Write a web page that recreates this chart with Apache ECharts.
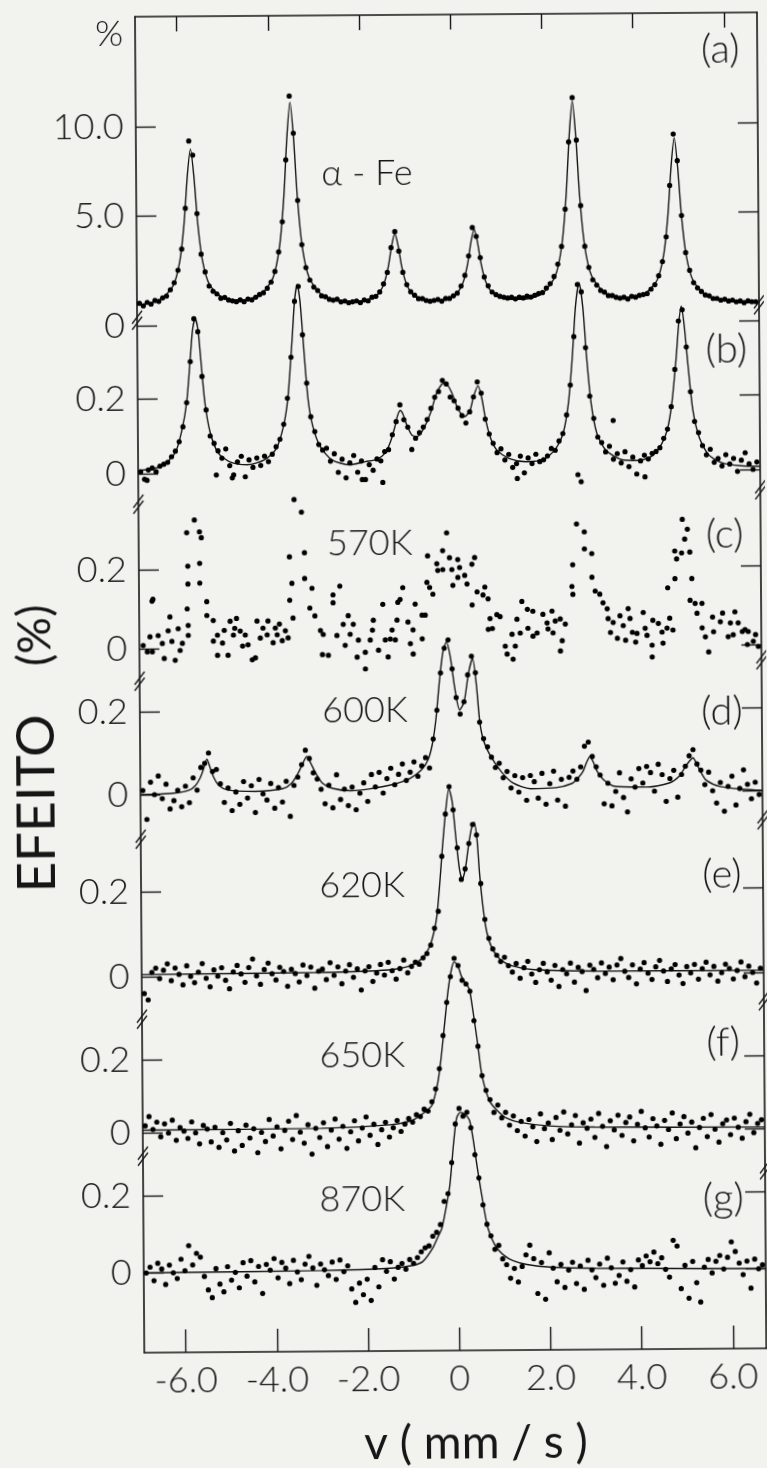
<!DOCTYPE html>
<html>
<head>
<meta charset="utf-8">
<script src="https://cdn.jsdelivr.net/npm/echarts@6/dist/echarts.min.js"></script>
<style>
html, body { margin: 0; padding: 0; background: #f2f3ef; }
#chart { width: 767px; height: 1468px; transform: rotate(-0.4deg); }
</style>
</head>
<body>
<div id="chart"></div>
<script>
// Velocity channels (mm/s), shared by all spectra
const velocity = [
-6.86,-6.775,-6.69,-6.605,-6.52,-6.435,-6.35,-6.265,-6.18,-6.095,
-6.01,-5.925,-5.84,-5.755,-5.67,-5.585,-5.5,-5.415,-5.33,-5.245,
-5.16,-5.075,-4.99,-4.905,-4.82,-4.735,-4.65,-4.565,-4.48,-4.395,
-4.31,-4.225,-4.14,-4.055,-3.97,-3.885,-3.8,-3.715,-3.63,-3.545,
-3.46,-3.375,-3.29,-3.205,-3.12,-3.035,-2.95,-2.865,-2.78,-2.695,
-2.61,-2.525,-2.44,-2.355,-2.27,-2.185,-2.1,-2.015,-1.93,-1.845,
-1.76,-1.675,-1.59,-1.505,-1.42,-1.335,-1.25,-1.165,-1.08,-0.995,
-0.91,-0.825,-0.74,-0.655,-0.57,-0.485,-0.4,-0.315,-0.23,-0.145,
-0.06,0.025,0.11,0.195,0.28,0.365,0.45,0.535,0.62,0.705,
0.79,0.875,0.96,1.045,1.13,1.215,1.3,1.385,1.47,1.555,
1.64,1.725,1.81,1.895,1.98,2.065,2.15,2.235,2.32,2.405,
2.49,2.575,2.66,2.745,2.83,2.915,3.0,3.085,3.17,3.255,
3.34,3.425,3.51,3.595,3.68,3.765,3.85,3.935,4.02,4.105,
4.19,4.275,4.36,4.445,4.53,4.615,4.7,4.785,4.87,4.955,
5.04,5.125,5.21,5.295,5.38,5.465,5.55,5.635,5.72,5.805,
5.89,5.975,6.06,6.145,6.23,6.315,6.4,6.485,6.57,6.655];

// (a) alpha-Fe reference, effect in %
const dotsA = [
0.05,-0.1,0.1,0.0,0.2,0.15,0.35,0.45,0.8,1.2,
1.9,3.1,5.4,9.2,8.4,5.1,2.8,1.8,1.0,0.7,
0.55,0.3,0.35,0.2,0.15,0.1,0.2,0.1,0.25,0.2,
0.35,0.5,0.6,0.85,1.2,1.8,2.9,4.6,8.1,11.7,
9.6,5.8,3.3,2.0,1.3,0.9,0.7,0.4,0.35,0.2,
0.15,0.2,0.05,0.1,0.0,0.05,0.1,0.0,0.15,0.1,
0.3,0.35,0.6,1.05,1.7,3.1,4.0,2.9,1.7,1.0,
0.6,0.4,0.2,0.2,0.1,0.05,0.1,0.15,0.05,0.2,
0.2,0.35,0.5,0.9,1.5,2.6,4.2,3.7,2.5,1.4,
0.9,0.55,0.4,0.3,0.25,0.2,0.25,0.15,0.25,0.2,
0.3,0.25,0.35,0.45,0.5,0.75,1.0,1.4,2.1,3.1,
5.2,9.0,11.5,9.1,5.4,3.1,1.9,1.2,0.9,0.6,
0.5,0.3,0.3,0.2,0.15,0.2,0.1,0.25,0.2,0.3,
0.35,0.4,0.65,0.9,1.4,2.2,3.6,6.5,9.4,7.9,
4.8,2.7,1.7,1.0,0.7,0.5,0.3,0.25,0.1,0.1,
0.0,0.05,-0.05,0.0,-0.1,-0.05,-0.15,-0.05,-0.1,-0.1];
const fitA = [
[-6.91,-0.06],[-6.42,0.23],[-6.12,1.02],[-5.97,2.39],[-5.87,4.53],[-5.79,7.27],[-5.72,8.75],[-5.65,7.28],[-5.57,4.55],[-5.47,2.42],[-5.32,1.07],[-5.02,0.32],[-4.62,0.19],
[-4.23,0.43],[-3.93,1.42],[-3.78,3.18],[-3.68,5.94],[-3.60,9.45],[-3.53,11.35],[-3.46,9.47],[-3.38,5.93],[-3.28,3.16],[-3.13,1.40],[-2.83,0.40],[-2.39,0.09],
[-1.95,0.10],[-1.65,0.42],[-1.50,1.03],[-1.40,1.98],[-1.32,3.21],[-1.25,3.9],[-1.18,3.21],[-1.10,1.98],[-1.00,1.02],[-0.85,0.42],[-0.55,0.12],
[-0.21,0.12],[0.09,0.47],[0.24,1.10],[0.34,2.11],[0.42,3.40],[0.49,4.1],[0.56,3.40],[0.64,2.12],[0.74,1.11],[0.89,0.49],[1.19,0.14],[1.58,0.13],
[1.96,0.41],[2.26,1.41],[2.41,3.15],[2.51,5.89],[2.59,9.40],[2.66,11.3],[2.73,9.40],[2.81,5.90],[2.91,3.15],[3.06,1.41],[3.36,0.44],[3.78,0.18],
[4.19,0.34],[4.49,1.13],[4.64,2.53],[4.74,4.77],[4.82,7.62],[4.89,9.2],[4.96,7.61],[5.04,4.75],[5.14,2.50],[5.29,1.08],[5.59,0.25],[6.0,-0.04],[6.4,-0.13],[6.73,-0.16]];

// (b)
const dotsB = [
0.005,-0.015,0.01,0.015,0.005,0.02,0.025,0.03,0.045,0.06,
0.085,0.125,0.19,0.3,0.415,0.38,0.26,0.17,0.1,0.08,
0.06,0.04,0.065,0.02,-0.005,0.03,0.045,-0.01,0.035,0.015,
0.04,0.02,0.045,0.03,0.05,0.07,0.09,0.13,0.2,0.31,
0.46,0.5,0.37,0.24,0.15,0.11,0.075,0.06,0.065,0.03,
0.05,0.0,0.035,-0.015,0.025,0.045,0.0,0.03,-0.02,0.02,
0.005,0.035,0.03,0.055,0.06,0.1,0.135,0.18,0.14,0.12,
0.06,0.09,0.105,0.12,0.14,0.17,0.2,0.215,0.245,0.235,
0.2,0.19,0.17,0.15,0.13,0.16,0.2,0.24,0.21,0.14,
0.1,0.075,0.05,0.06,0.03,0.045,0.01,0.02,0.04,-0.005,
0.035,0.02,0.045,0.025,0.03,0.04,0.06,0.055,0.08,0.1,
0.15,0.23,0.36,0.5,0.48,0.33,0.2,0.14,0.09,0.075,
0.05,0.065,0.03,0.045,0.02,0.05,0.01,0.035,-0.01,0.025,
0.04,0.03,0.045,0.05,0.06,0.085,0.11,0.17,0.27,0.4,
0.43,0.33,0.21,0.13,0.1,0.065,0.04,0.055,0.02,0.03,
0.01,0.04,0.015,0.03,-0.005,0.025,0.045,0.015,0.0,0.02];
const extraB = [[3.51,0.134],[-6.72,-0.018],[-5.2,-0.005],[-4.85,-0.013],[-2.0,-0.02],[-1.55,-0.028],[1.4,-0.02],[4.2,-0.018]];
const fitB = [
[-6.91,0.008],[-6.4,0.02],[-6.1,0.055],[-5.95,0.115],[-5.84,0.19],[-5.76,0.3],[-5.70,0.385],[-5.64,0.415],[-5.58,0.385],[-5.52,0.3],[-5.44,0.19],[-5.33,0.11],[-5.16,0.055],[-4.9,0.03],[-4.52,0.022],
[-4.14,0.035],[-3.88,0.065],[-3.72,0.125],[-3.62,0.2],[-3.52,0.355],[-3.46,0.46],[-3.40,0.505],[-3.34,0.46],[-3.28,0.36],[-3.18,0.2],[-3.08,0.125],[-2.92,0.07],[-2.66,0.033],[-2.27,0.02],
[-1.93,0.028],[-1.68,0.034],[-1.50,0.05],[-1.38,0.08],[-1.28,0.12],[-1.22,0.15],[-1.16,0.165],[-1.10,0.155],[-1.03,0.13],[-0.91,0.099],[-0.79,0.095],[-0.66,0.113],[-0.49,0.159],[-0.36,0.21],[-0.24,0.235],[-0.16,0.238],[-0.02,0.21],
[0.11,0.167],[0.25,0.147],[0.37,0.163],[0.45,0.2],[0.55,0.23],[0.63,0.198],[0.72,0.135],[0.83,0.085],[0.96,0.056],[1.22,0.034],[1.6,0.025],[1.98,0.031],
[2.24,0.058],[2.41,0.1],[2.53,0.18],[2.62,0.3],[2.70,0.44],[2.78,0.505],[2.86,0.44],[2.94,0.3],[3.03,0.18],[3.15,0.1],[3.34,0.055],[3.68,0.029],[4.06,0.026],
[4.36,0.038],[4.57,0.07],[4.70,0.11],[4.80,0.18],[4.90,0.3],[4.96,0.39],[5.02,0.44],[5.08,0.39],[5.16,0.28],[5.26,0.16],[5.40,0.085],[5.60,0.04],[5.9,0.018],[6.3,0.01],[6.73,0.008]];

// (c) 570 K, points only
const dotsC = [
[-6.63,0.12],[-6.61,0.125],[-6.24,0.08],[-6.28,0.045],[-6.5,0.033],[-6.41,0.013],[-6.83,0.008],[-6.74,-0.008],[-6.63,-0.008],[-6.13,-0.03],[-6.02,-0.005],[-5.97,0.013],[-6.37,-0.025],[-6.2,0.018],[-6.68,0.03],[-6.06,0.05],
[-5.86,0.293],[-5.69,0.325],[-5.58,0.295],[-5.54,0.28],[-5.84,0.208],[-5.58,0.215],[-5.84,0.163],[-5.58,0.165],[-5.86,0.1],[-5.43,0.118],[-5.84,0.058],[-5.84,0.033],[-5.43,0.083],
[-5.29,0.07],[-5.2,0.033],[-5.29,0.018],[-5.2,-0.018],[-4.97,-0.018],[-4.92,0.068],[-4.85,0.033],[-4.78,0.075],[-4.82,0.05],[-4.7,0.043],[-4.59,0.033],[-4.53,0.008],[-4.44,-0.03],[-4.37,-0.025],[-4.33,0.068],[-4.2,0.05],[-4.11,0.033],[-4.09,0.068],[-3.93,0.05],[-3.89,0.033],[-3.78,0.018],[-3.71,0.043],[-5.09,0.013],[-4.65,0.005],[-4.26,0.025],[-3.98,0.013],[-5.05,0.045],[-3.84,0.06],
[-3.5,0.375],[-3.34,0.343],[-3.61,0.23],[-3.28,0.24],[-3.56,0.163],[-3.28,0.175],[-3.12,0.15],[-3.61,0.12],[-3.17,0.1],[-3.06,0.08],[-3.54,0.075],[-3.65,0.025],
[-2.94,0.043],[-2.88,0.033],[-2.9,-0.018],[-2.77,-0.02],[-2.66,0.133],[-2.51,0.155],[-2.66,0.113],[-2.33,0.08],[-2.44,0.058],[-2.29,0.033],[-2.22,0.058],[-2.11,0.018],[-2.14,-0.025],[-1.96,-0.055],[-1.96,-0.013],[-1.85,0.018],[-1.78,0.068],[-1.8,0.043],[-1.67,-0.008],[-1.57,0.108],[-1.52,0.018],[-1.46,-0.025],[-1.41,0.02],[-1.37,0.043],[-1.3,0.018],[-1.26,0.068],[-1.24,0.113],[-1.19,0.12],[-1.13,0.15],[-1.02,0.063],[-0.97,0.008],[-0.91,-0.018],[-0.86,0.108],[-0.91,0.043],[-0.71,0.08],[-0.64,0.08],[-0.71,0.02],[-2.58,0.03],[-2.4,0.005],
[-0.58,0.23],[-0.6,0.163],[-0.54,0.15],[-0.47,0.133],[-0.38,0.21],[-0.36,0.193],[-0.25,0.243],[-0.16,0.288],[-0.25,0.195],[-0.1,0.225],[-0.05,0.195],[-0.03,0.155],[0.08,0.22],[0.12,0.2],[0.08,0.175],[0.23,0.18],[0.28,0.158],[0.45,0.225],[0.39,0.208],[0.5,0.138],[0.39,0.105],[0.67,0.15],[0.74,0.12],[0.63,0.13],
[0.78,0.07],[0.74,0.043],[0.83,0.045],[0.93,0.08],[1.0,0.075],[1.11,0.0],[1.15,-0.02],[1.28,-0.033],[1.33,0.0],[1.26,0.03],[1.37,0.068],[1.48,0.113],[1.6,0.093],[1.44,0.033],[1.61,0.045],[1.72,0.088],[1.72,0.025],[1.81,0.033],[1.94,0.08],[2.03,0.058],[2.05,0.043],[2.14,0.088],[2.16,0.033],[2.32,0.068],[2.43,0.055],[2.36,0.013],[2.32,-0.013],[2.21,0.063],
[2.73,0.433],[2.8,0.415],[2.69,0.308],[2.86,0.288],[2.86,0.245],[3.02,0.233],[2.6,0.205],[3.02,0.173],[2.58,0.15],[2.6,0.13],[3.09,0.138],[3.19,0.13],[3.26,0.108],[3.35,0.093],
[3.37,0.068],[3.42,0.033],[3.48,0.058],[3.57,0.018],[3.63,0.075],[3.7,0.05],[3.75,0.013],[3.81,0.093],[3.85,0.068],[3.9,0.033],[3.97,0.008],[4.0,0.03],[4.14,0.083],[4.18,0.043],[4.22,0.025],[4.33,0.0],[4.33,-0.03],[4.35,0.063],[4.47,0.055],[4.55,0.033],[4.57,0.005],[4.66,0.043],[4.72,0.068],[4.79,0.038],
[5.01,0.318],[5.12,0.293],[5.06,0.268],[4.84,0.238],[4.99,0.233],[5.17,0.235],[4.88,0.218],[4.84,0.168],[5.21,0.168],[4.68,0.145],[5.17,0.113],[5.28,0.105],[5.43,0.105],
[5.32,0.08],[5.43,0.043],[5.5,0.02],[5.57,-0.018],[5.68,0.033],[5.66,0.07],[5.83,0.058],[5.88,0.08],[6.0,0.02],[6.05,0.055],[6.11,0.025],[6.15,0.083],[6.22,0.055],[6.31,0.033],[6.37,0.038],[6.42,0.0],[6.44,0.033],[6.55,0.008],[6.6,0.025],[6.66,-0.005]];

// (d) 600 K
const dotsD = [
0.01,-0.06,0.03,0.0,0.045,-0.01,0.025,-0.035,-0.015,0.01,
-0.03,0.02,-0.02,0.04,0.01,0.065,0.075,0.1,0.055,0.06,
0.025,-0.02,0.015,-0.04,0.005,-0.025,0.03,-0.01,0.02,-0.045,
0.035,0.0,-0.015,0.025,-0.035,0.015,-0.02,0.03,-0.055,0.02,
0.04,0.07,0.105,0.085,0.05,0.035,0.01,-0.025,0.02,-0.035,
0.045,-0.015,0.01,-0.03,0.015,-0.04,0.0,0.025,-0.02,0.045,
0.015,0.05,0.0,0.035,0.06,0.02,0.045,0.07,0.03,0.05,
0.075,0.04,0.065,0.085,0.06,0.13,0.2,0.29,0.35,0.37,
0.3,0.23,0.19,0.22,0.285,0.33,0.29,0.17,0.13,0.11,
0.085,0.06,0.07,0.035,0.05,0.01,0.04,0.0,0.035,-0.02,
0.04,0.025,-0.015,0.045,-0.03,0.02,0.05,-0.02,0.03,-0.035,
0.035,0.05,0.03,0.06,0.11,0.12,0.085,0.06,0.04,-0.03,
0.02,-0.035,0.0,0.045,-0.015,-0.05,0.03,0.01,0.055,0.02,
0.06,0.045,0.0,0.065,0.04,-0.025,0.03,0.05,-0.015,0.04,
0.06,0.085,0.1,0.065,0.05,0.015,0.045,0.0,-0.03,0.02,
-0.05,0.01,0.035,-0.035,0.005,0.05,0.015,-0.02,0.02,-0.01];
const fitD = [
[-6.91,0.0],[-6.2,0.003],[-5.85,0.01],[-5.7,0.022],[-5.6,0.04],[-5.53,0.06],[-5.45,0.085],[-5.37,0.06],[-5.3,0.04],[-5.2,0.022],[-5.0,0.01],[-4.4,0.006],
[-3.8,0.012],[-3.6,0.025],[-3.45,0.05],[-3.34,0.075],[-3.26,0.09],[-3.18,0.075],[-3.07,0.05],[-2.92,0.025],[-2.7,0.012],[-2.3,0.006],
[-1.9,0.01],[-1.4,0.02],[-1.0,0.035],[-0.75,0.055],[-0.6,0.08],[-0.5,0.12],[-0.42,0.18],[-0.34,0.27],[-0.26,0.34],[-0.18,0.365],[-0.1,0.33],[0.0,0.25],[0.1,0.2],
[0.2,0.22],[0.3,0.29],[0.39,0.325],[0.47,0.26],[0.54,0.17],[0.62,0.125],[0.76,0.09],[1.0,0.05],[1.26,0.022],[1.64,0.008],
[2.2,0.01],[2.55,0.02],[2.7,0.035],[2.8,0.05],[2.88,0.072],[2.95,0.085],[3.02,0.072],[3.1,0.05],[3.25,0.028],[3.5,0.012],
[4.2,0.01],[4.7,0.02],[4.9,0.035],[5.02,0.055],[5.13,0.072],[5.21,0.08],[5.29,0.065],[5.38,0.045],[5.5,0.025],[5.8,0.01],[6.3,0.003],[6.73,0.0]];

// (e) 620 K
const dotsE = [
-0.04,-0.055,0.01,0.02,-0.005,0.015,0.03,-0.01,0.02,0.005,
-0.02,0.025,0.0,-0.015,0.01,0.03,-0.005,-0.025,0.015,0.0,
0.02,-0.01,-0.03,0.01,0.025,0.005,-0.015,0.02,0.04,0.0,
-0.02,0.015,0.03,0.005,-0.01,0.02,0.01,-0.025,0.015,0.005,
-0.015,0.025,0.0,0.02,-0.03,0.01,0.015,-0.01,0.03,0.0,
0.02,-0.02,0.01,0.025,-0.005,0.015,-0.035,0.01,0.02,-0.015,
0.005,0.025,0.0,0.03,0.01,-0.01,0.015,0.035,0.005,0.02,
0.03,0.025,0.04,0.05,0.07,0.11,0.15,0.28,0.38,0.445,
0.39,0.3,0.225,0.25,0.31,0.355,0.33,0.215,0.13,0.085,
0.06,0.045,0.03,0.04,0.02,0.005,0.025,-0.01,0.015,0.03,
0.0,-0.02,0.01,0.025,0.005,-0.015,0.02,-0.03,0.01,0.0,
0.025,-0.02,0.015,0.005,-0.04,0.02,0.01,-0.01,0.025,0.0,
0.015,-0.015,0.02,0.035,0.005,-0.01,0.02,-0.025,0.01,0.025,
0.0,-0.015,0.015,0.03,0.005,-0.02,0.01,0.02,-0.005,-0.025,
0.015,0.0,0.02,-0.015,0.01,0.025,-0.005,0.015,-0.02,0.0,
0.02,0.01,-0.015,0.005,0.025,-0.01,0.015,0.0,-0.025,0.01];
const fitE = [
[-6.91,0.005],[-3.0,0.007],[-1.5,0.012],[-1.0,0.022],[-0.75,0.04],[-0.6,0.065],[-0.5,0.1],[-0.43,0.14],[-0.36,0.22],[-0.3,0.3],[-0.22,0.39],[-0.15,0.44],[-0.08,0.41],
[0.0,0.32],[0.07,0.25],[0.13,0.225],[0.2,0.25],[0.28,0.31],[0.35,0.35],[0.40,0.36],[0.46,0.32],[0.51,0.24],[0.58,0.16],[0.66,0.1],[0.78,0.06],[0.95,0.035],[1.2,0.02],[1.7,0.01],[3.0,0.006],[6.73,0.005]];

// (f) 650 K
const dotsF = [
0.02,0.045,0.01,0.03,-0.01,0.025,0.0,0.035,-0.02,0.015,
0.005,-0.015,0.03,0.0,-0.03,0.02,0.01,-0.025,0.015,-0.04,
0.0,-0.02,0.025,-0.05,0.005,-0.035,0.02,-0.015,0.01,-0.055,
0.0,-0.025,0.035,-0.01,0.015,-0.045,0.005,0.03,-0.02,0.045,
0.0,-0.03,0.02,-0.06,0.01,-0.015,0.025,-0.04,0.005,0.035,
-0.02,0.015,-0.045,0.0,0.03,-0.025,0.01,0.04,-0.01,0.02,
-0.035,0.005,0.025,-0.015,0.01,0.03,0.0,0.02,0.035,0.025,
0.045,0.04,0.06,0.055,0.08,0.115,0.17,0.26,0.35,0.42,
0.47,0.45,0.41,0.4,0.38,0.3,0.23,0.15,0.11,0.085,
0.05,0.07,0.035,0.05,0.015,0.04,0.0,0.025,-0.015,0.03,
0.01,-0.03,0.045,0.005,0.02,-0.025,0.035,0.0,0.05,-0.01,
0.015,0.04,-0.035,0.02,0.005,0.03,-0.02,0.045,0.01,-0.045,
0.025,0.0,0.04,-0.015,0.02,0.035,-0.03,0.015,0.05,0.005,
-0.02,0.03,0.01,-0.04,0.025,0.0,0.045,-0.025,0.015,0.035,
-0.01,0.02,-0.05,0.005,0.03,-0.02,0.04,0.0,-0.035,0.015,
0.025,-0.015,0.03,0.005,-0.025,0.02,0.04,-0.01,0.015,0.025];
const fitF = [
[-6.91,0.008],[-3.0,0.01],[-1.5,0.018],[-1.0,0.03],[-0.75,0.05],[-0.57,0.07],[-0.44,0.13],[-0.36,0.2],[-0.28,0.29],[-0.2,0.38],[-0.12,0.44],[-0.06,0.46],
[0.02,0.45],[0.1,0.42],[0.2,0.4],[0.27,0.385],[0.34,0.33],[0.44,0.24],[0.52,0.16],[0.59,0.12],[0.7,0.08],[0.86,0.055],[1.05,0.035],[1.36,0.022],[2.0,0.012],[3.0,0.008],[6.73,0.005]];

// (g) 870 K
const dotsG = [
0.0,0.015,-0.02,0.025,0.01,-0.03,0.02,0.0,-0.015,0.035,
0.005,0.07,0.02,0.05,0.04,-0.01,-0.045,-0.065,0.01,-0.03,
-0.05,0.015,-0.02,0.0,-0.04,0.025,-0.01,0.03,-0.025,0.015,
-0.055,0.02,0.005,0.035,-0.015,0.025,0.01,-0.03,0.03,0.0,
-0.02,0.02,0.04,0.01,-0.035,0.02,0.005,-0.01,0.025,-0.02,
0.03,0.0,0.015,-0.045,-0.08,-0.03,-0.06,-0.02,-0.075,0.01,
-0.04,0.03,0.0,0.025,-0.02,0.01,0.02,0.005,0.03,0.02,
0.035,0.05,0.06,0.065,0.09,0.1,0.12,0.18,0.2,0.28,
0.38,0.42,0.4,0.41,0.37,0.3,0.24,0.17,0.12,0.09,
0.055,0.065,0.03,0.015,-0.02,0.005,-0.03,0.01,0.04,0.065,
0.03,-0.06,0.02,-0.075,0.045,0.005,-0.03,0.015,-0.045,0.0,
0.02,-0.035,0.01,-0.05,0.025,0.0,-0.02,0.015,-0.04,0.03,
0.005,-0.035,-0.015,0.02,-0.03,0.0,-0.045,0.025,0.01,0.035,
0.02,0.045,0.015,0.03,0.0,-0.02,0.075,0.06,-0.05,0.01,
-0.075,0.02,-0.035,-0.085,0.005,0.025,-0.01,0.02,0.035,0.0,
0.03,0.07,0.045,0.015,-0.015,0.02,-0.05,0.025,0.0,0.01];
const fitG = [
[-6.91,0.0],[-3.0,0.003],[-1.5,0.008],[-1.0,0.015],[-0.79,0.025],[-0.57,0.06],[-0.45,0.09],[-0.37,0.11],[-0.28,0.16],[-0.19,0.22],[-0.1,0.33],[-0.03,0.395],
[0.05,0.41],[0.15,0.405],[0.25,0.39],[0.33,0.34],[0.4,0.28],[0.51,0.195],[0.64,0.11],[0.8,0.064],[1.0,0.038],[1.19,0.025],[1.49,0.015],[2.0,0.008],[3.0,0.004],[6.73,0.0]];

// Axis ticks
const xTicks = [-6, -4, -2, 0, 2, 4, 6];
const ticksA = [5, 10];
const ticksLow = [0, 0.2];
const ticksB = [0, 0.2, 0.4];

// Panel captions
const panelTags = ['(a)', '(b)', '(c)', '(d)', '(e)', '(f)', '(g)'];
const sampleTags = ['\u03b1 - Fe', '', '570K', '600K', '620K', '650K', '870K'];

// ---- layout (pixels) ----
const X_MIN = -6.914, X_MAX = 6.726;
const FRAME = { left: 140, right: 762, top: 15, bottom: 1351 };
const A_MIN = -1.2147;
const strips = [
  { top: 15,   bottom: 324,  min: A_MIN,   max: 16.243 },
  { top: 323,  bottom: 503,  min: -0.0832, max: 0.4 },
  { top: 503,  bottom: 680,  min: -0.0835, max: 0.3646 },
  { top: 680,  bottom: 838,  min: -0.1091, max: 0.2739 },
  { top: 838,  bottom: 1018, min: -0.1018, max: 0.3243 },
  { top: 1018, bottom: 1155, min: -0.0639, max: 0.3088 },
  { top: 1155, bottom: 1351, min: -0.2062, max: 0.3009 }
];
const tagPos = [[725,52],[729,352],[726,537],[722,714],[721,877],[721,1045],[720,1201]];
const samplePos = [[371,173],null,[371,543],[365,710],[361,885],[360,1055],[359,1199]];
const breaksLeft = [319, 503, 680, 838, 1018, 1155];
const breaksRight = [308, 493, 663, 823, 1004, 1173];

const INK = '#161616';
const FONT = 'Lato, "Open Sans", "DejaVu Sans", sans-serif';
const tickText = { fontFamily: FONT, fontWeight: 300, fontSize: 36, color: INK };

const leftTicks = [[A_MIN].concat(ticksA), ticksLow, ticksLow, ticksLow, ticksLow, ticksLow, ticksLow];
const rightTicks = [ticksA, ticksB, ticksLow, ticksLow, ticksLow, ticksLow, ticksLow];
const dotSets = [
  velocity.map((v, i) => [v, dotsA[i]]),
  velocity.map((v, i) => [v, dotsB[i]]).concat(extraB),
  dotsC,
  velocity.map((v, i) => [v, dotsD[i]]),
  velocity.map((v, i) => [v, dotsE[i]]),
  velocity.map((v, i) => [v, dotsF[i]]),
  velocity.map((v, i) => [v, dotsG[i]])
];
const fitSets = [fitA, fitB, null, fitD, fitE, fitF, fitG];

const fmtX = v => (v === 0 ? '0' : v.toFixed(1));
const fmtY = (i) => (v => {
  if (i === 0) return v < 0 ? '0' : v.toFixed(1);
  return v === 0 ? '0' : String(v);
});

const width = FRAME.right - FRAME.left;
const grid = [{ left: FRAME.left, top: FRAME.top, width: width, height: FRAME.bottom - FRAME.top }];
strips.forEach(s => grid.push({ left: FRAME.left, top: s.top, width: width, height: s.bottom - s.top }));

const lineStyle = { color: INK, width: 1.6 };
const tickLine = { color: INK, width: 1.4 };
const xAxis = [
  { gridIndex: 0, type: 'value', min: X_MIN, max: X_MAX, position: 'bottom',
    axisLine: { show: true, onZero: false, lineStyle: lineStyle },
    axisTick: { show: true, inside: true, length: 23, customValues: xTicks, lineStyle: tickLine },
    axisLabel: Object.assign({ show: true, customValues: xTicks, formatter: fmtX, margin: 10 }, tickText),
    splitLine: { show: false } },
  { gridIndex: 0, type: 'value', min: X_MIN, max: X_MAX, position: 'top',
    axisLine: { show: true, onZero: false, lineStyle: lineStyle },
    axisTick: { show: true, inside: true, length: 15, customValues: xTicks, lineStyle: tickLine },
    axisLabel: { show: false }, splitLine: { show: false } }
];
const yAxis = [
  { gridIndex: 0, type: 'value', min: 0, max: 1, position: 'left',
    axisLine: { show: true, onZero: false, lineStyle: lineStyle },
    axisTick: { show: false }, axisLabel: { show: false }, splitLine: { show: false } },
  { gridIndex: 0, type: 'value', min: 0, max: 1, position: 'right',
    axisLine: { show: true, onZero: false, lineStyle: lineStyle },
    axisTick: { show: false }, axisLabel: { show: false }, splitLine: { show: false } }
];
const series = [];
strips.forEach((s, i) => {
  xAxis.push({ gridIndex: i + 1, type: 'value', min: X_MIN, max: X_MAX, show: false,
    axisLine: { onZero: false } });
  yAxis.push({ gridIndex: i + 1, type: 'value', min: s.min, max: s.max, position: 'left',
    axisLine: { show: false, onZero: false },
    axisTick: { show: true, inside: true, length: 20, customValues: leftTicks[i], lineStyle: tickLine },
    axisLabel: Object.assign({ show: true, customValues: leftTicks[i], formatter: fmtY(i), margin: 12 }, tickText),
    splitLine: { show: false } });
  yAxis.push({ gridIndex: i + 1, type: 'value', min: s.min, max: s.max, position: 'right',
    axisLine: { show: false, onZero: false },
    axisTick: { show: true, inside: true, length: 20, customValues: rightTicks[i], lineStyle: tickLine },
    axisLabel: { show: false }, splitLine: { show: false } });
  const xi = 2 + i, yi = 2 + 2 * i;
  if (fitSets[i]) {
    series.push({ type: 'line', xAxisIndex: xi, yAxisIndex: yi, data: fitSets[i],
      showSymbol: false, symbol: 'none', smooth: 0.25, clip: false, silent: true, z: 2,
      lineStyle: { color: INK, width: 1.4 } });
  }
  series.push({ type: 'scatter', xAxisIndex: xi, yAxisIndex: yi, data: dotSets[i],
    symbolSize: 5.2, clip: false, silent: true, z: 3, itemStyle: { color: '#000', opacity: 1 } });
});

// captions, axis titles and the axis-break marks
const graphic = [];
const textStyle = (t, size, weight) => ({ text: t, fontFamily: FONT, fontWeight: weight, fontSize: size,
  fill: INK, align: 'center', verticalAlign: 'middle' });
panelTags.forEach((t, i) => graphic.push({ type: 'text', x: tagPos[i][0], y: tagPos[i][1], silent: true,
  style: textStyle(t, 40, 300) }));
sampleTags.forEach((t, i) => { if (t) graphic.push({ type: 'text', x: samplePos[i][0], y: samplePos[i][1], silent: true,
  style: textStyle(t, 36, 300) }); });
graphic.push({ type: 'text', x: 114, y: 32, silent: true, style: textStyle('%', 36, 300) });
// vertical axis title: "EFEITO" then "(%)", read bottom to top
graphic.push({ type: 'text', x: 37, y: 801, rotation: Math.PI / 2, silent: true,
  style: textStyle('EFEITO', 53, 400) });
graphic.push({ type: 'text', x: 36, y: 633, rotation: Math.PI / 2, silent: true,
  style: textStyle('(%)', 46, 400) });
graphic.push({ type: 'text', x: 471, y: 1444, silent: true, style: textStyle('v ( mm / s )', 46, 400) });
function breakMark(x, c) {
  return [
    { type: 'line', silent: true, shape: { x1: x - 5, y1: c + 3, x2: x + 5, y2: c - 10 }, style: { stroke: INK, lineWidth: 1.3 } },
    { type: 'line', silent: true, shape: { x1: x - 5, y1: c + 9, x2: x + 5, y2: c - 4 }, style: { stroke: INK, lineWidth: 1.3 } }
  ];
}
breaksLeft.forEach(c => graphic.push(...breakMark(FRAME.left, c)));
breaksRight.forEach(c => graphic.push(...breakMark(FRAME.right, c)));

const chart = echarts.init(document.getElementById('chart'), null, { renderer: 'canvas' });
chart.setOption({
  backgroundColor: '#f2f3ef',
  animation: false,
  grid: grid,
  xAxis: xAxis,
  yAxis: yAxis,
  series: series,
  graphic: graphic
});
</script>
</body>
</html>
